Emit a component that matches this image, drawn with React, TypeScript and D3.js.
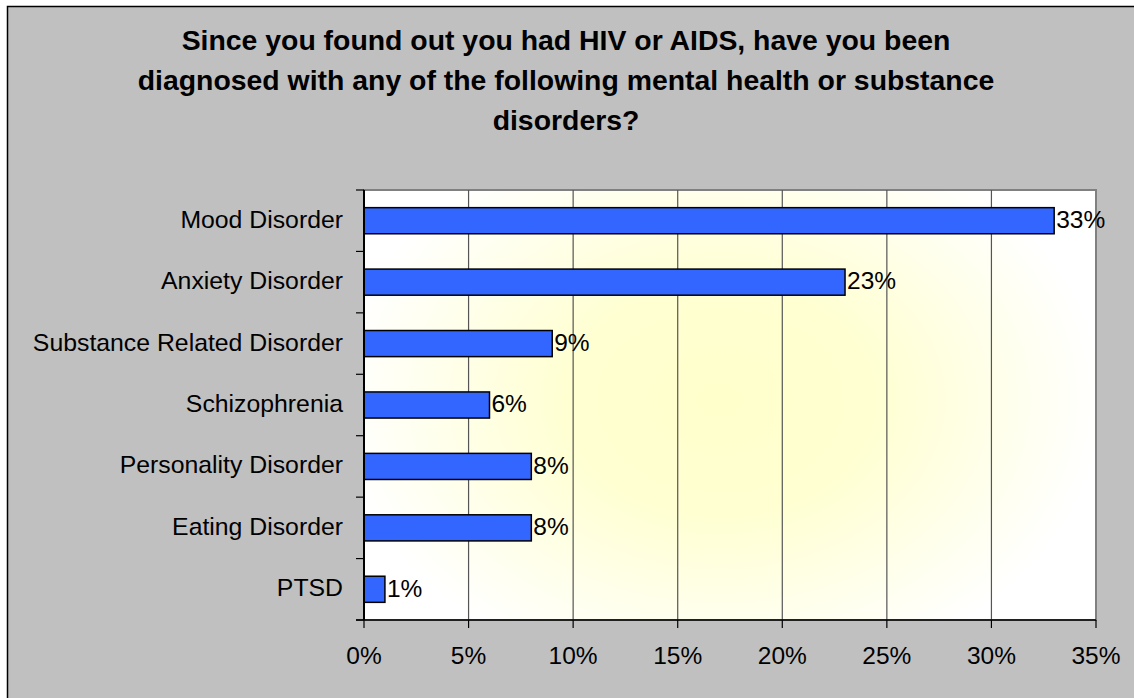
import React from "react";
import * as d3 from "d3";

const categories = [
  "Mood Disorder",
  "Anxiety Disorder",
  "Substance Related Disorder",
  "Schizophrenia",
  "Personality Disorder",
  "Eating Disorder",
  "PTSD",
];
const values = [33, 23, 9, 6, 8, 8, 1];
const xTicks = [0, 5, 10, 15, 20, 25, 30, 35];
const titleLines = [
  "Since you found out you had HIV or AIDS, have you been",
  "diagnosed with any of the following mental health or substance",
  "disorders?",
];

const W = 1134;
const H = 698;
const plot = { left: 364, right: 1096, top: 190, bottom: 620 };
const FONT = "Arial, 'Liberation Sans', sans-serif";

export default function App() {
  const x = d3.scaleLinear().domain([0, 35]).range([plot.left, plot.right]);
  const y = d3
    .scaleBand<string>()
    .domain(categories)
    .range([plot.top, plot.bottom])
    .paddingInner(0.575)
    .paddingOuter(0.2875);
  const step = y.step();
  const boundaries = d3.range(categories.length + 1).map((i) => plot.top + i * step);

  return (
    <svg
      width={W}
      height={H}
      style={{ position: "absolute", left: 0, top: 0, display: "block" }}
      fontFamily={FONT}
    >
      <defs>
        <radialGradient
          id="bg"
          gradientUnits="userSpaceOnUse"
          cx={720}
          cy={400}
          r={380}
          gradientTransform="translate(720 400) scale(1 0.75) translate(-720 -400)"
        >
          <stop offset="0%" stopColor="#ffffcc" />
          <stop offset="40%" stopColor="#ffffd2" />
          <stop offset="100%" stopColor="#ffffff" />
        </radialGradient>
      </defs>
      <rect x={7.5} y={6.5} width={W + 10} height={H + 10} fill="#c0c0c0" stroke="#000" strokeWidth={1.5} />
      {titleLines.map((t, i) => (
        <text
          key={i}
          x={566}
          y={50 + i * 40}
          textAnchor="middle"
          fontWeight="bold"
          fontSize={28.4}
          fill="#000"
        >
          {t}
        </text>
      ))}
      <rect
        x={plot.left}
        y={plot.top}
        width={plot.right - plot.left}
        height={plot.bottom - plot.top}
        fill="url(#bg)"
        stroke="#808080"
        strokeWidth={2}
      />
      {xTicks.slice(1, -1).map((t) => (
        <line key={t} x1={x(t)} x2={x(t)} y1={plot.top} y2={plot.bottom} stroke="#555" strokeWidth={1.2} />
      ))}
      {categories.map((c, i) => (
        <rect
          key={c}
          x={x(0)}
          y={y(c)!}
          width={x(values[i]) - x(0)}
          height={y.bandwidth()}
          fill="#3366ff"
          stroke="#000"
          strokeWidth={1.5}
        />
      ))}
      {categories.map((c, i) => (
        <text
          key={"v" + c}
          x={x(values[i]) + 2}
          y={y(c)! + y.bandwidth() / 2}
          dy="0.3em"
          fontSize={24.5}
          fill="#000"
        >
          {values[i] + "%"}
        </text>
      ))}
      {/* y axis */}
      <line x1={plot.left} x2={plot.left} y1={plot.top} y2={plot.bottom} stroke="#000" strokeWidth={2} />
      {boundaries.map((b, i) => (
        <line key={i} x1={plot.left - 8} x2={plot.left} y1={b} y2={b} stroke="#000" strokeWidth={1.2} />
      ))}
      {categories.map((c) => (
        <text
          key={"l" + c}
          x={plot.left - 21}
          y={y(c)! + y.bandwidth() / 2}
          dy="0.28em"
          textAnchor="end"
          fontSize={24.8}
          fill="#000"
        >
          {c}
        </text>
      ))}
      {/* x axis */}
      <line x1={plot.left - 8} x2={plot.right} y1={plot.bottom} y2={plot.bottom} stroke="#000" strokeWidth={1.5} />
      {xTicks.map((t) => (
        <g key={"t" + t}>
          <line x1={x(t)} x2={x(t)} y1={plot.bottom} y2={plot.bottom + 8} stroke="#000" strokeWidth={1.2} />
          <text x={x(t)} y={664} textAnchor="middle" fontSize={24.5} fill="#000">
            {t + "%"}
          </text>
        </g>
      ))}
    </svg>
  );
}
